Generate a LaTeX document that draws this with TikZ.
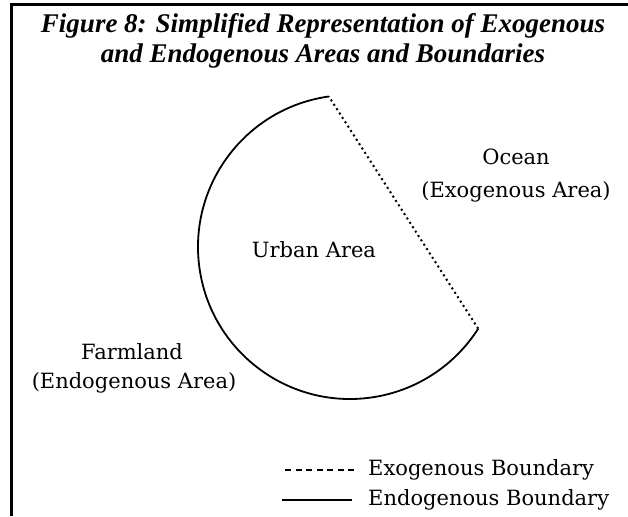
\documentclass[tikz,border=0pt]{standalone}
\usepackage{fontspec}
\setmainfont{Liberation Serif}
\newfontfamily\labelfont{DejaVu Serif}
\usepackage{tikz}
\usetikzlibrary{positioning,calc}
\tikzset{
  titulo/.style={align=center, inner sep=0pt, font=\fontsize{27}{30}\selectfont\bfseries\itshape},
  zona/.style={align=center, inner sep=0pt, font=\labelfont\fontsize{21}{22}\selectfont},
  endoline/.style={line width=1.8pt},
  exodots/.style={line width=2pt, dash pattern=on 2pt off 3.2pt},
  exodash/.style={line width=1.6pt, dash pattern=on 6pt off 4.5pt},
  marco/.style={line width=3pt},
}
\begin{document}
\begin{tikzpicture}[x=1pt,y=1pt]
\useasboundingbox (0,0) rectangle (628,516);
% frame (left and top only)
\draw[marco] (11.5,0) -- (11.5,511) -- (628,511);
\node[titulo] (title) at (323,475) {Figure 8: Simplified Representation of Exogenous\\and Endogenous Areas and Boundaries};
% urban area
\coordinate (cen) at (350,269);
\coordinate (top) at ($(cen)+(98:152)$);
\draw[endoline] (top) arc[start angle=98, end angle=327.5, radius=152] coordinate (rend);
\draw[exodots] (rend) -- (top);
\node[zona] (urban) at (314,266) {Urban Area};
\node[zona] (ocean) at (516,359) {Ocean};
\node[zona] (oceanex) at (516,324) {(Exogenous Area)};
\node[zona] (farm) at (132,164) {Farmland};
\node[zona] (farmen) at (134,133) {(Endogenous Area)};
% legend
\node[zona, anchor=west] (exotxt) at (368,46) {Exogenous Boundary};
\node[zona, anchor=west] (endotxt) at (368,16) {Endogenous Boundary};
\draw[exodash] ([xshift=-14]exotxt.west) -- ++(-72,0);
\draw[endoline] ([xshift=-16]endotxt.west) -- ++(-70,0);
\end{tikzpicture}
\end{document}
